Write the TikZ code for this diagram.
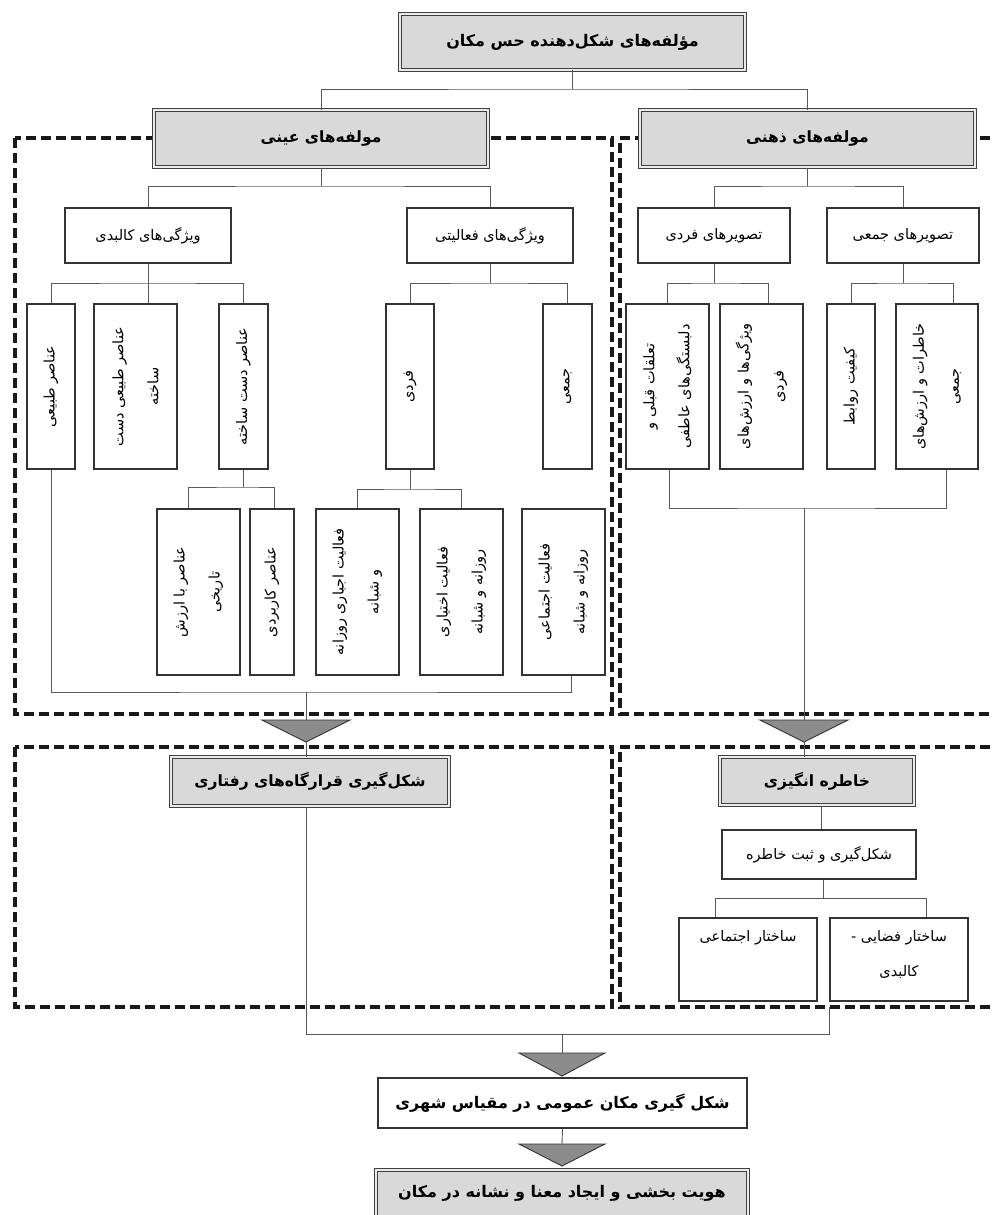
\documentclass[tikz,border=0pt]{standalone}
\usepackage{fontspec}
\newfontfamily\arfont[Script=Arabic]{DejaVu Sans}
\TeXXeTstate=1
\newcommand\rl[1]{\beginR #1\endR}
\tikzset{
 conn/.style={draw=black!65, line width=0.9pt},
 dsh/.style={draw=black!90, line width=3.2pt, dash pattern=on 10pt off 5pt},
 hdr/.style={draw=black!75, double=black!8, double distance=1.6pt, line width=1pt, fill=black!15, inner sep=0pt, font=\arfont\bfseries\fontsize{15.5}{18}\selectfont},
 wbox/.style={draw=black!80, line width=1.1pt, fill=white, inner sep=0pt},
 bbox/.style={wbox, font=\arfont\bfseries\fontsize{16}{18}\selectfont},
 tri/.style={draw=black!80, line width=0.9pt, fill=black!45},
 nfont/.style={font=\arfont\fontsize{14.5}{35}\selectfont, inner sep=0pt},
 vtxt/.style={nfont, rotate=90, align=center},
 sz/.style 2 args={minimum width=#1pt, minimum height=#2pt},
}
\begin{document}
\begin{tikzpicture}[x=1pt,y=-1pt]
\useasboundingbox (0,0) rectangle (993,1215);
% dashed frames
\draw[dsh] (15,138) rectangle (612,714);
\draw[dsh] (1005,138) -| (620,714) -- (1005,714);
\draw[dsh] (15,747) rectangle (612,1007);
\draw[dsh] (1005,747) -| (620,1007) -- (1005,1007);

% top and headers
\node[hdr, sz={345}{56}, font=\arfont\bfseries\fontsize{16}{18}\selectfont] (top) at (572.5,42) {\rl{مؤلفه^^^^200cهای شکل^^^^200cدهنده حس مکان}};
\node[hdr, sz={334}{57}] (hA) at (321,138.5) {\rl{مولفه^^^^200cهای عینی}};
\node[hdr, sz={335}{57}] (hZ) at (807.5,138.5) {\rl{مولفه^^^^200cهای ذهنی}};

% level 2
\node[wbox, nfont, sz={166}{55}] (kal) at (148,235.5) {\rl{ویژگی^^^^200cهای کالبدی}};
\node[wbox, nfont, sz={166}{55}] (fal) at (490,235.5) {\rl{ویژگی^^^^200cهای فعالیتی}};
\node[wbox, nfont, sz={152}{55}] (tf) at (714,235.5) {\rl{تصویرهای فردی}};
\node[wbox, nfont, sz={152}{55}] (tj) at (903,235.5) {\rl{تصویرهای جمعی}};

% level 3 boxes
\node[wbox, sz={48}{165}] (et) at (51,386.5) {};
\node[wbox, sz={83}{165}] (etd) at (135.5,386.5) {};
\node[wbox, sz={49}{165}] (eds) at (243.5,386.5) {};
\node[wbox, sz={48}{165}] (fr) at (410,386.5) {};
\node[wbox, sz={49}{165}] (jm) at (567.5,386.5) {};
\node[wbox, sz={83}{165}] (ta) at (667.5,386.5) {};
\node[wbox, sz={83}{165}] (va) at (761.5,386.5) {};
\node[wbox, sz={48}{165}] (kr) at (851,386.5) {};
\node[wbox, sz={82}{165}] (kh) at (937,386.5) {};
\node[vtxt] (et-t) at (et.center) {\rl{عناصر طبیعی}};
\node[vtxt] (etd-t) at (etd.center) {\rl{عناصر طبیعی دست}\\\rl{ساخته}};
\node[vtxt] (eds-t) at (eds.center) {\rl{عناصر دست ساخته}};
\node[vtxt] (fr-t) at (fr.center) {\rl{فردی}};
\node[vtxt] (jm-t) at (jm.center) {\rl{جمعی}};
\node[vtxt] (ta-t) at (ta.center) {\rl{تعلقات قبلی و}\\\rl{دلبستگی^^^^200cهای عاطفی}};
\node[vtxt] (va-t) at (va.center) {\rl{ویژگی^^^^200cها و ارزش^^^^200cهای}\\\rl{فردی}};
\node[vtxt] (kr-t) at (kr.center) {\rl{کیفیت روابط}};
\node[vtxt] (kh-t) at (kh.center) {\rl{خاطرات و ارزش^^^^200cهای}\\\rl{جمعی}};

% level 4 boxes
\node[wbox, sz={83}{166}] (ebt) at (198.5,592) {};
\node[wbox, sz={44}{166}] (ek) at (272,592) {};
\node[wbox, sz={83}{166}] (fej) at (357.5,592) {};
\node[wbox, sz={83}{166}] (fek) at (461.5,592) {};
\node[wbox, sz={83}{166}] (fet) at (563.5,592) {};
\node[vtxt] (ebt-t) at (ebt.center) {\rl{عناصر با ارزش}\\\rl{تاریخی}};
\node[vtxt] (ek-t) at (ek.center) {\rl{عناصر کاربردی}};
\node[vtxt] (fej-t) at (fej.center) {\rl{فعالیت اجباری روزانه}\\\rl{و شبانه}};
\node[vtxt] (fek-t) at (fek.center) {\rl{فعالیت اختیاری}\\\rl{روزانه و شبانه}};
\node[vtxt] (fet-t) at (fet.center) {\rl{فعالیت اجتماعی}\\\rl{روزانه و شبانه}};

% second row
\node[hdr, sz={278}{49}] (rb) at (310,781.5) {\rl{شکل^^^^200cگیری قرارگاه^^^^200cهای رفتاری}};
\node[hdr, sz={194}{48}] (kh2) at (817,781) {\rl{خاطره انگیزی}};
\node[wbox, nfont, sz={194}{49}] (sb) at (819,854.5) {\rl{شکل^^^^200cگیری و ثبت خاطره}};
\node[wbox, sz={138}{83}] (se) at (748,959.5) {};
\node[wbox, sz={138}{83}] (sf) at (899,959.5) {};
\node[nfont, anchor=north, align=center] (se-t) at ([yshift=-13pt]se.north) {\rl{ساختار اجتماعی}};
\node[nfont, anchor=north, align=center] (sf-t) at ([yshift=-13pt]sf.north) {\rl{ساختار فضایی -}\\\rl{کالبدی}};

% bottom
\node[bbox, sz={369}{50}] (gm) at (562.5,1103) {\rl{شکل گیری مکان عمومی در مقیاس شهری}};
\node[hdr, sz={372}{56}] (hb) at (562,1198) {};
\node[hdr, draw=none, fill=none, double=none, font=\arfont\bfseries\fontsize{16}{18}\selectfont] (hb-t) at (562,1193) {\rl{هویت بخشی و ایجاد معنا و نشانه در مکان}};

% triangles
\coordinate (t1top) at (306,720); \coordinate (t1a) at (306,742);
\coordinate (t2top) at (804,720); \coordinate (t2a) at (804,742);
\coordinate (t3top) at (562,1053); \coordinate (t3a) at (562,1076);
\coordinate (t4top) at (562,1144); \coordinate (t4a) at (562,1166);
\draw[tri] (262,720) -- (350,720) -- (t1a) -- cycle;
\draw[tri] (760,720) -- (848,720) -- (t2a) -- cycle;
\draw[tri] (519,1053) -- (605,1053) -- (t3a) -- cycle;
\draw[tri] (519,1144) -- (605,1144) -- (t4a) -- cycle;

% connectors
\coordinate (j0) at (572.5,89);
\draw[conn] (top.south) -- (j0);
\draw[conn] (hA.north) |- (j0) -| (hZ.north);
\coordinate (jA) at (321,186);
\draw[conn] (hA.south) -- (jA);
\draw[conn] (kal.north) |- (jA) -| (fal.north);
\coordinate (jZ) at (807.5,186);
\draw[conn] (hZ.south) -- (jZ);
\draw[conn] (tf.north) |- (jZ) -| (tj.north);
\coordinate (j1) at (148,283);
\draw[conn] (kal.south) -- (kal.south |- etd.north);
\draw[conn] (et.north) |- (j1) -| (eds.north);
\coordinate (j2) at (490,283);
\draw[conn] (fal.south) -- (j2);
\draw[conn] (fr.north) |- (j2) -| (jm.north);
\coordinate (j3) at (714,283);
\draw[conn] (tf.south) -- (j3);
\draw[conn] (ta.north) |- (j3) -| ([xshift=7pt]va.north);
\coordinate (j4) at (903,283);
\draw[conn] (tj.south) -- (j4);
\draw[conn] (kr.north) |- (j4) -| ([xshift=16pt]kh.north);
\coordinate (j5) at (243.5,487);
\draw[conn] (eds.south) -- (j5);
\draw[conn] ([xshift=-10pt]ebt.north) |- (j5) -| ([xshift=2pt]ek.north);
\coordinate (j6) at (410,489);
\draw[conn] (fr.south) -- (j6);
\draw[conn] (fej.north) |- (j6) -| (fek.north);
\coordinate (j7) at (306,692);
\draw[conn] (et.south) |- (j7) -| ([xshift=8pt]fet.south);
\draw[conn] (j7) -- (t1top);
\coordinate (j8) at (804,508);
\draw[conn] ([xshift=2pt]ta.south) |- (j8) -| ([xshift=9pt]kh.south);
\draw[conn] (j8) -- (t2top);
\draw[conn] (t1a) -- (t1a |- rb.north);
\draw[conn] (t2a) -- (t2a |- kh2.north);
\draw[conn] ([xshift=4pt]kh2.south) -- ([xshift=4pt]kh2.south |- sb.north);
\coordinate (j10) at (823,898);
\draw[conn] (j10 |- sb.south) -- (j10);
\draw[conn] ([xshift=-33pt]se.north) |- (j10) -| ([xshift=27pt]sf.north);
\coordinate (j11) at (829,1007);
\coordinate (j12) at (562,1034);
\draw[conn] (t1a |- rb.south) |- (j12) -| (j11);
\draw[conn] (j12) -- (t3top);
\draw[conn] (gm.south) -- (t4top);
\end{tikzpicture}
\end{document}
